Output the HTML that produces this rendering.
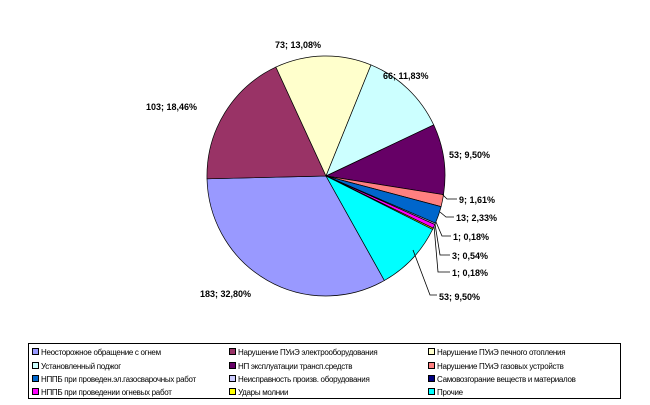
<!DOCTYPE html><html><head><meta charset="utf-8"><style>
body{margin:0;background:#fff;width:650px;height:405px;overflow:hidden;font-family:"Liberation Sans",Arial,sans-serif}
.lg{position:absolute;left:28px;top:343px;width:593px;height:56px;border:1px solid #000;box-sizing:border-box}
.it{position:absolute;font-size:8px;white-space:nowrap;letter-spacing:-0.3px}
.it i{display:inline-block;width:5px;height:5px;border:1px solid #000;margin-right:2px;vertical-align:0}
</style></head><body>
<svg id="s" width="650" height="340" style="position:absolute;left:0;top:0" font-family="Liberation Sans,Arial,sans-serif" font-size="9" font-weight="bold"></svg>
<div class="lg">
<div class="it" style="left:3px;top:4px"><i style="background:#9999FF"></i>Неосторожное обращение с огнем</div>
<div class="it" style="left:200px;top:4px"><i style="background:#993366"></i>Нарушение ПУиЭ электрооборудования</div>
<div class="it" style="left:399px;top:4px"><i style="background:#FFFFCC"></i>Нарушение ПУиЭ печного отопления</div>
<div class="it" style="left:3px;top:18px"><i style="background:#CCFFFF"></i>Установленный поджог</div>
<div class="it" style="left:200px;top:18px"><i style="background:#660066"></i>НП эксплуатации трансп.средств</div>
<div class="it" style="left:399px;top:18px"><i style="background:#FF8080"></i>Нарушение ПУиЭ газовых устройств</div>
<div class="it" style="left:3px;top:31px"><i style="background:#0066CC"></i>НППБ при проведен.эл.газосварочных работ</div>
<div class="it" style="left:200px;top:31px"><i style="background:#CCCCFF"></i>Неисправность произв. оборудования</div>
<div class="it" style="left:399px;top:31px"><i style="background:#000080"></i>Самовозгорание веществ и материалов</div>
<div class="it" style="left:3px;top:44px"><i style="background:#FF00FF"></i>НППБ при проведении огневых работ</div>
<div class="it" style="left:200px;top:44px"><i style="background:#FFFF00"></i>Удары молнии</div>
<div class="it" style="left:399px;top:44px"><i style="background:#00FFFF"></i>Прочие</div>
</div>
<script>
var v=[183,103,73,66,53,9,13,1,0,3,1,53],c=["#9999FF","#993366","#FFFFCC","#CCFFFF","#660066","#FF8080","#0066CC","#CCCCFF","#000080","#FF00FF","#FFFF00","#00FFFF"];
var cx=326,cy=176,rx=119,ry=120,a=150.6,h="";
function p(t){t=t*Math.PI/180;return [cx+rx*Math.sin(t),cy-ry*Math.cos(t)];}
for(var i=0;i<v.length;i++){if(!v[i])continue;var d=v[i]/558*360,s=p(a),e=p(a+d);
h+='<path d="M'+cx+','+cy+'L'+s[0].toFixed(1)+','+s[1].toFixed(1)+'A'+rx+','+ry+' 0 '+(d>180?1:0)+' 1 '+e[0].toFixed(1)+','+e[1].toFixed(1)+'Z" fill="'+c[i]+'" stroke="#000" stroke-width="0.7"/>';a+=d;}
var L=[["73; 13,08%",275,48],["66; 11,83%",383,79],["103; 18,46%",146,110],["53; 9,50%",449,158],["9; 1,61%",459,203],["13; 2,33%",456,221],["1; 0,18%",453,240],["3; 0,54%",452,259],["1; 0,18%",452,276],["53; 9,50%",439,300],["183; 32,80%",200,297]];
L.forEach(function(l){h+='<text x="'+l[1]+'" y="'+l[2]+'">'+l[0]+'</text>';});
h+='<g stroke="#000" stroke-width="0.8" fill="none"><polyline points="442,194 447,199 457,199"/><polyline points="440,212 446,217 454,217"/><polyline points="436,222 442,236 451,236"/><polyline points="435,224 440,255 450,255"/><polyline points="434,226 438,272 450,272"/><polyline points="413,250 430,295 437,295"/></g>';
document.getElementById("s").innerHTML=h;
</script>
</body></html>
